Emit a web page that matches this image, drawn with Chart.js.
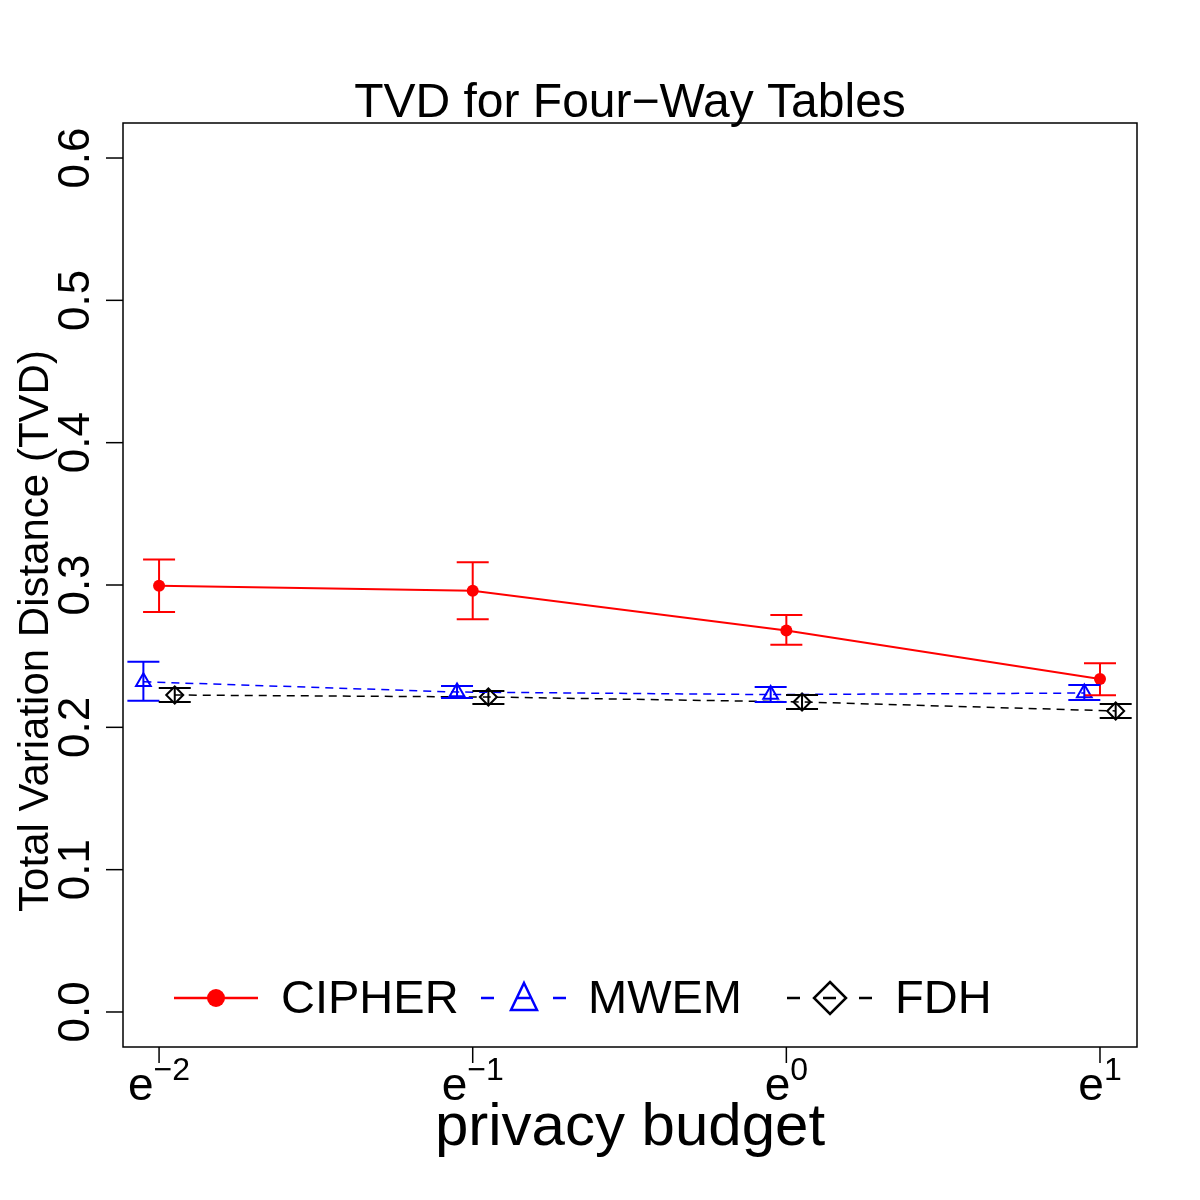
<!DOCTYPE html>
<html>
<head>
<meta charset="utf-8">
<script src="https://cdn.jsdelivr.net/npm/chart.js@4"></script>
<style>
  body { margin: 0; background: #fff; }
  canvas { display: block; }
</style>
</head>
<body>
<canvas id="tvdChart" width="1200" height="1200"></canvas>
<script>
// log(privacy budget) positions
const budgets = [-2, -1, 0, 1];
const tickExponents = ['\u22122', '\u22121', '0', '1'];
const yTicks = [0.0, 0.1, 0.2, 0.3, 0.4, 0.5, 0.6];

const cipher = [0.2995, 0.296, 0.268, 0.234];
const cipherLow = [0.281, 0.276, 0.258, 0.2225];
const cipherHigh = [0.318, 0.316, 0.279, 0.245];

const mwem = [0.232, 0.2248, 0.223, 0.2241];
const mwemLow = [0.2187, 0.2206, 0.2178, 0.2192];
const mwemHigh = [0.246, 0.229, 0.2283, 0.2297];

const fdh = [0.2227, 0.2213, 0.2178, 0.2115];
const fdhLow = [0.2178, 0.2164, 0.2129, 0.2066];
const fdhHigh = [0.2276, 0.2255, 0.2227, 0.2164];

const DODGE = 0.05; // horizontal jitter so the error bars don't overlap
const FONT = '"Liberation Sans", Arial, sans-serif';

const toPoints = (vals, shift) => vals.map((v, i) => ({ x: budgets[i] + shift, y: v }));

const errorBars = {
    id: 'errorBars',
    afterDatasetsDraw(chart) {
        const { ctx, scales: { x, y } } = chart;
        const sets = [
            { lo: cipherLow, hi: cipherHigh, shift: 0, color: '#ff0000' },
            { lo: mwemLow, hi: mwemHigh, shift: -DODGE, color: '#0000ff' },
            { lo: fdhLow, hi: fdhHigh, shift: DODGE, color: '#000000' },
        ];
        ctx.save();
        ctx.lineWidth = 2;
        sets.forEach(s => {
            ctx.strokeStyle = s.color;
            budgets.forEach((b, i) => {
                const px = x.getPixelForValue(b + s.shift);
                const top = y.getPixelForValue(s.hi[i]);
                const bot = y.getPixelForValue(s.lo[i]);
                ctx.beginPath();
                ctx.moveTo(px, top); ctx.lineTo(px, bot);
                ctx.moveTo(px - 16, top); ctx.lineTo(px + 16, top);
                ctx.moveTo(px - 16, bot); ctx.lineTo(px + 16, bot);
                ctx.stroke();
            });
        });
        ctx.restore();
    }
};

// R-style box, axes, titles and legend
const frame = {
    id: 'frame',
    afterDraw(chart) {
        const { ctx, chartArea: a, scales: { x, y } } = chart;
        ctx.save();
        ctx.strokeStyle = '#000';
        ctx.fillStyle = '#000';
        ctx.lineWidth = 1.5;
        ctx.strokeRect(a.left, a.top, a.right - a.left, a.bottom - a.top);

        // y axis
        yTicks.forEach(t => {
            const py = y.getPixelForValue(t);
            ctx.beginPath();
            ctx.moveTo(a.left, py); ctx.lineTo(a.left - 17, py);
            ctx.stroke();
            ctx.save();
            ctx.translate(89, py);
            ctx.rotate(-Math.PI / 2);
            ctx.font = '44px ' + FONT;
            ctx.textAlign = 'center';
            ctx.textBaseline = 'alphabetic';
            ctx.fillText(t.toFixed(1), 0, 0);
            ctx.restore();
        });

        // x axis
        budgets.forEach((b, i) => {
            const px = x.getPixelForValue(b);
            ctx.beginPath();
            ctx.moveTo(px, a.bottom); ctx.lineTo(px, a.bottom + 16);
            ctx.stroke();
            ctx.font = '46px ' + FONT;
            const ew = ctx.measureText('e').width;
            ctx.font = '32px ' + FONT;
            const sw = ctx.measureText(tickExponents[i]).width;
            const left = px - (ew + sw) / 2;
            ctx.textAlign = 'left';
            ctx.textBaseline = 'alphabetic';
            ctx.font = '46px ' + FONT;
            ctx.fillText('e', left, 1100);
            ctx.font = '32px ' + FONT;
            ctx.fillText(tickExponents[i], left + ew, 1080);
        });

        // titles
        ctx.textAlign = 'center';
        ctx.font = '48px ' + FONT;
        ctx.fillText('TVD for Four\u2212Way Tables', (a.left + a.right) / 2, 117);
        ctx.font = '60px ' + FONT;
        ctx.fillText('privacy budget', (a.left + a.right) / 2, 1145);
        ctx.save();
        ctx.translate(48, 631);
        ctx.rotate(-Math.PI / 2);
        ctx.font = '42px ' + FONT;
        ctx.fillText('Total Variation Distance (TVD)', 0, 0);
        ctx.restore();

        // legend
        const ly = 998;
        ctx.font = '47px ' + FONT;
        ctx.textAlign = 'left';
        ctx.textBaseline = 'middle';

        ctx.strokeStyle = '#ff0000';
        ctx.fillStyle = '#ff0000';
        ctx.lineWidth = 2.5;
        ctx.beginPath(); ctx.moveTo(174, ly); ctx.lineTo(258, ly); ctx.stroke();
        ctx.beginPath(); ctx.arc(216, ly, 9, 0, Math.PI * 2); ctx.fill();

        ctx.strokeStyle = '#0000ff';
        ctx.lineWidth = 2.5;
        ctx.setLineDash([13, 23]);
        ctx.beginPath(); ctx.moveTo(481, ly); ctx.lineTo(566, ly); ctx.stroke();
        ctx.setLineDash([]);
        ctx.beginPath();
        ctx.moveTo(524, ly - 15); ctx.lineTo(537, ly + 12); ctx.lineTo(511, ly + 12); ctx.closePath();
        ctx.stroke();

        ctx.strokeStyle = '#000';
        ctx.setLineDash([13, 23]);
        ctx.beginPath(); ctx.moveTo(787, ly); ctx.lineTo(873, ly); ctx.stroke();
        ctx.setLineDash([]);
        ctx.beginPath();
        ctx.moveTo(830, ly - 16); ctx.lineTo(846, ly); ctx.lineTo(830, ly + 16); ctx.lineTo(814, ly); ctx.closePath();
        ctx.stroke();

        ctx.fillStyle = '#000';
        ctx.fillText('CIPHER', 281, ly + 2);
        ctx.fillText('MWEM', 588, ly + 2);
        ctx.fillText('FDH', 895, ly + 2);
        ctx.restore();
    }
};

new Chart(document.getElementById('tvdChart'), {
    type: 'line',
    data: {
        datasets: [
            {
                label: 'CIPHER',
                data: toPoints(cipher, 0),
                borderColor: '#ff0000',
                backgroundColor: '#ff0000',
                borderWidth: 2,
                pointStyle: 'circle',
                pointRadius: 6,
                pointBackgroundColor: '#ff0000',
                pointBorderWidth: 0,
            },
            {
                label: 'MWEM',
                data: toPoints(mwem, -DODGE),
                borderColor: '#0000ff',
                borderWidth: 1.5,
                borderDash: [8, 6],
                pointStyle: 'triangle',
                pointRadius: 8.5,
                pointBackgroundColor: 'rgba(0,0,0,0)',
                pointBorderColor: '#0000ff',
                pointBorderWidth: 2,
            },
            {
                label: 'FDH',
                data: toPoints(fdh, DODGE),
                borderColor: '#000000',
                borderWidth: 1.5,
                borderDash: [8, 6],
                pointStyle: 'rectRot',
                pointRadius: 8.5,
                pointBackgroundColor: 'rgba(0,0,0,0)',
                pointBorderColor: '#000000',
                pointBorderWidth: 2,
            },
        ]
    },
    options: {
        responsive: false,
        animation: false,
        devicePixelRatio: 1,
        layout: { padding: { left: 123, top: 123, right: 63, bottom: 153 } },
        plugins: { legend: { display: false }, tooltip: { enabled: false } },
        scales: {
            x: { type: 'linear', min: -2.115, max: 1.118, display: false },
            y: { type: 'linear', min: -0.0246, max: 0.6246, display: false },
        },
    },
    plugins: [errorBars, frame],
});
</script>
</body>
</html>
